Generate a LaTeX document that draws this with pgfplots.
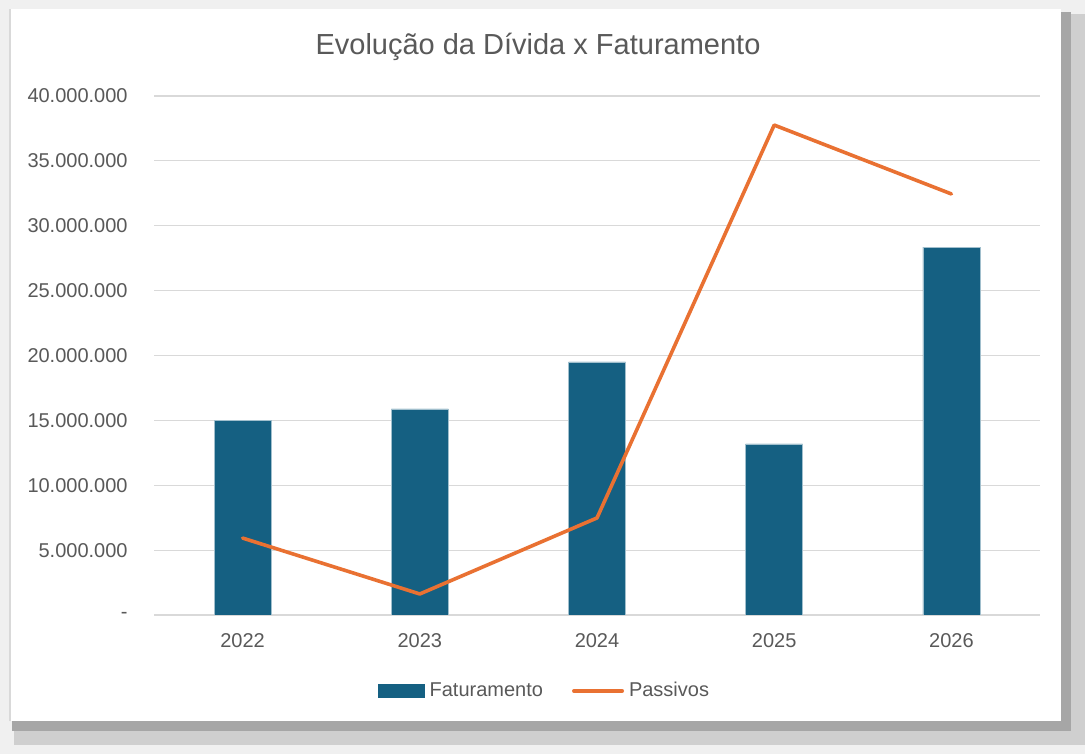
\documentclass[border=0pt]{standalone}
\usepackage{fontspec}
\setmainfont{Liberation Sans}
\usepackage{pgfplots}
\pgfplotsset{compat=1.18}
\definecolor{barblue}{HTML}{156082}
\definecolor{lineorange}{HTML}{E97132}
\definecolor{txtgray}{HTML}{595959}
\definecolor{gridgray}{HTML}{D9D9D9}
\begin{document}
\begin{tikzpicture}
\fill[black!6] (0,0) rectangle (542.5pt,377pt);
\fill[black!19] (7pt,4.5pt) rectangle (542.5pt,370pt);
\fill[black!35] (6pt,11.5pt) rectangle (535.5pt,371pt);
\fill[white] (5pt,16.5pt) rectangle (530.5pt,372.5pt);
\draw[black!15, line width=0.6pt] (5pt,16.5pt) -- (5pt,372.5pt);
\node[text=txtgray, font=\fontsize{14.5}{17}\selectfont] at (269pt,353.5pt) {Evolução da Dívida x Faturamento};
\begin{axis}[
  at={(77pt,69.5pt)}, anchor=south west, scale only axis,
  width=443pt, height=259.5pt,
  xmin=-0.5, xmax=4.5, ymin=0, ymax=40,
  xtick={0,1,2,3,4}, xticklabels={2022,2023,2024,2025,2026},
  ytick={0,5,10,15,20,25,30,35,40},
  yticklabels={-,5.000.000,10.000.000,15.000.000,20.000.000,25.000.000,30.000.000,35.000.000,40.000.000},
  axis x line*=bottom, axis y line*=left,
  x axis line style={draw=gridgray, line width=0.7pt, -},
  y axis line style={draw=none},
  major tick length=0pt,
  ymajorgrids, grid style={draw=gridgray, line width=0.6pt},
  yticklabel style={anchor=east, inner sep=0pt, xshift=-13pt, text=txtgray, font=\fontsize{10}{12}\selectfont},
  xticklabel style={anchor=north, inner sep=0pt, yshift=-9pt, text=txtgray, font=\fontsize{10}{12}\selectfont},
  legend columns=2,
  legend style={at={(axis description cs:0.4425,-0.1464)}, anchor=center, draw=none, fill=none,
    font=\fontsize{10}{12}\selectfont, text=txtgray,
    /tikz/every even column/.append style={column sep=12pt},
    nodes={inner sep=2.5pt}},
]
\addplot[ybar, bar width=28.5pt, fill=barblue, draw=white!60!barblue, line width=0.3pt,
  legend image code/.code={\fill[barblue] (0pt,-3.25pt) rectangle (23pt,3.25pt);}]
  coordinates {(0,15.0) (1,15.88) (2,19.5) (3,13.18) (4,28.36)};
\addlegendentry{Faturamento}
\addplot[lineorange, line width=1.8pt, line cap=round, line join=round, mark=none,
  legend image code/.code={\draw[lineorange, line width=2pt, line cap=round] (0pt,0pt) -- (24pt,0pt);}]
  coordinates {(0,5.93) (1,1.62) (2,7.48) (3,37.76) (4,32.45)};
\addlegendentry{Passivos}
\end{axis}
\end{tikzpicture}
\end{document}
